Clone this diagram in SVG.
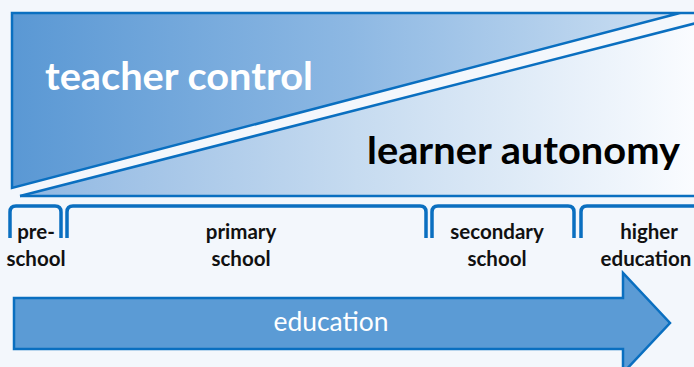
<svg xmlns="http://www.w3.org/2000/svg" width="694" height="367" viewBox="0 0 694 367">
<defs>
<linearGradient id="gUp" x1="12" y1="0" x2="690" y2="0" gradientUnits="userSpaceOnUse">
<stop offset="0" stop-color="#5A98D4"/>
<stop offset="0.5" stop-color="#8DB8E3"/>
<stop offset="1" stop-color="#CFE1F3"/>
</linearGradient>
<linearGradient id="gLo" x1="20" y1="0" x2="694" y2="0" gradientUnits="userSpaceOnUse">
<stop offset="0" stop-color="#8FB7E2"/>
<stop offset="0.5" stop-color="#C6DBF0"/>
<stop offset="1" stop-color="#FAFCFF"/>
</linearGradient>
<style>
.edge{stroke:#0A6FC0;stroke-width:2.5;fill:none}
.br{stroke:#0A6FC0;stroke-width:3.5;fill:none;stroke-linejoin:round}
.lbl{font-family:Lato,"Liberation Sans",sans-serif;font-weight:bold;font-size:20.5px;fill:#111;text-anchor:middle}
</style>
</defs>
<rect width="694" height="367" fill="#F3F7FC"/>
<g id="teacher-control">
<polygon points="12,13 680,13 12,188" fill="url(#gUp)" stroke="#0A6FC0" stroke-width="2.5"/>
<line x1="680" y1="13" x2="694" y2="13" class="edge"/>
<text x="45" y="90" font-family="Lato,'Liberation Sans',sans-serif" font-weight="bold" font-size="39" fill="#FFFFFF" textLength="268" lengthAdjust="spacingAndGlyphs">teacher control</text>
</g>
<g id="learner-autonomy">
<polygon points="20,196 720,17 720,196" fill="url(#gLo)"/>
<polyline points="20,196 720,17" class="edge"/>
<line x1="20" y1="196" x2="694" y2="196" class="edge"/>
<text x="367" y="164" font-family="Lato,'Liberation Sans',sans-serif" font-weight="bold" font-size="38" fill="#000000" textLength="313" lengthAdjust="spacingAndGlyphs">learner autonomy</text>
</g>
<g id="connectors">
<path class="br" d="M10,238 V212 Q10,206 16,206 H55 Q61,206 61,212 V238"/>
<path class="br" d="M67,238 V212 Q67,206 73,206 H420 Q426,206 426,212 V238"/>
<path class="br" d="M432,238 V212 Q432,206 438,206 H568 Q574,206 574,212 V238"/>
<path class="br" d="M581,238 V212 Q581,206 587,206 H700"/>
</g>
<g id="pre-school">
<text class="lbl" x="36" y="239">pre-</text>
<text class="lbl" x="36" y="266">school</text>
</g>
<g id="primary-school">
<text class="lbl" x="241" y="239">primary</text>
<text class="lbl" x="241" y="266">school</text>
</g>
<g id="secondary-school">
<text class="lbl" x="497" y="239">secondary</text>
<text class="lbl" x="497" y="266">school</text>
</g>
<g id="higher-education">
<text class="lbl" x="649" y="239">higher</text>
<text class="lbl" x="646" y="266">education</text>
</g>
<g id="education">
<polygon points="14,298 623,298 623,273 670,323 623,373 623,349 14,349" fill="#5B9BD5" stroke="#0A6FC0" stroke-width="2.5"/>
<text x="331" y="331" font-family="Lato,'Liberation Sans',sans-serif" font-size="26" fill="#FFFFFF" text-anchor="middle" textLength="115" lengthAdjust="spacingAndGlyphs">education</text>
</g>
</svg>
